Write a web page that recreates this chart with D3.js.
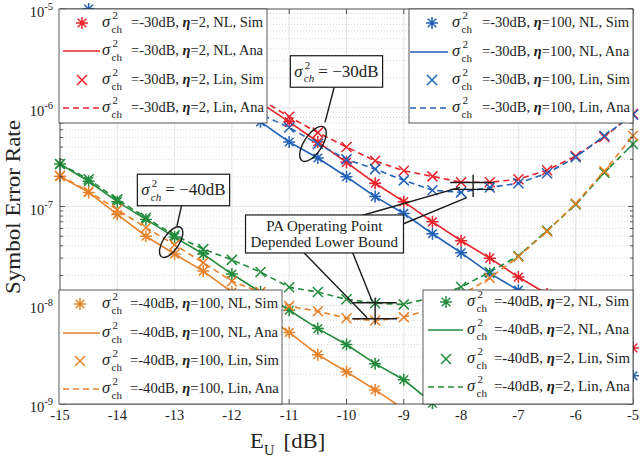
<!DOCTYPE html>
<html>
<head>
<meta charset="utf-8">
<script src="https://d3js.org/d3.v7.min.js"></script>
<style>
  body { margin: 0; background: #fff; }
</style>
</head>
<body>
<script>
// E_U grid (dB), sim points every 0.5 dB
const eu = [-15, -14.5, -14, -13.5, -13, -12.5, -12, -11.5, -11, -10.5, -10,
            -9.5, -9, -8.5, -8, -7.5, -7, -6.5, -6, -5.5, -5];

// sigma_ch^2 = -30 dB, eta = 2
const red_nl  = [2.4e-5, 1.6e-5, 1.05e-5, 6.5e-6, 4.2e-6, 2.7e-6, 1.75e-6, 1.12e-6, 7.2e-7, 4.5e-7, 2.8e-7,
                 1.72e-7, 1.12e-7, 7.0e-8, 4.5e-8, 3.0e-8, 1.93e-8, 1.3e-8, 8.5e-9, 5.6e-9, 3.7e-9];
const red_lin = [2.5e-5, 1.65e-5, 1.08e-5, 6.8e-6, 4.4e-6, 2.85e-6, 1.85e-6, 1.22e-6, 8.1e-7, 5.6e-7, 4.0e-7,
                 2.9e-7, 2.3e-7, 2.02e-7, 1.76e-7, 1.76e-7, 1.89e-7, 2.33e-7, 3.24e-7, 5.06e-7, 8.7e-7];
// sigma_ch^2 = -30 dB, eta = 100
const blue_nl  = [1.55e-5, 1.0e-5, 6.5e-6, 4.2e-6, 2.7e-6, 1.75e-6, 1.12e-6, 7.2e-7, 4.5e-7, 3.1e-7, 2.0e-7,
                  1.26e-7, 8.5e-8, 5.3e-8, 3.4e-8, 2.1e-8, 1.42e-8, 8.7e-9, 5.3e-9, 3.2e-9, 1.93e-9];
const blue_lin = [1.6e-5, 1.04e-5, 6.8e-6, 4.4e-6, 2.85e-6, 1.85e-6, 1.22e-6, 8.6e-7, 6.3e-7, 4.3e-7, 3.0e-7,
                  2.39e-7, 1.84e-7, 1.46e-7, 1.39e-7, 1.56e-7, 1.72e-7, 2.17e-7, 3.16e-7, 5.2e-7, 8.5e-7];
// sigma_ch^2 = -40 dB, eta = 2
const green_nl  = [2.69e-7, 1.8e-7, 1.12e-7, 7.4e-8, 4.9e-8, 3.3e-8, 2.07e-8, 1.36e-8, 8.9e-9, 5.8e-9, 4.0e-9,
                   2.56e-9, 1.76e-9, 1.02e-9, 6.3e-10, null, null, null, null, null, null];
const green_lin = [2.69e-7, 1.89e-7, 1.18e-7, 7.7e-8, 5.1e-8, 3.7e-8, 2.88e-8, 2.17e-8, 1.52e-8, 1.36e-8, 1.15e-8,
                   1.05e-8, 1.02e-8, 1.2e-8, 1.53e-8, 2.17e-8, 3.16e-8, 5.7e-8, 1.05e-7, 2.2e-7, 4.3e-7];
// sigma_ch^2 = -40 dB, eta = 100
const orange_nl  = [2.02e-7, 1.39e-7, 8.3e-8, 5.0e-8, 3.3e-8, 2.22e-8, 1.36e-8, 8.5e-9, 5.3e-9, 3.16e-9, 2.12e-9,
                    1.39e-9, 8.9e-10, 5.6e-10, null, null, null, null, null, null, null];
const orange_lin = [2.05e-7, 1.42e-7, 9.3e-8, 6.1e-8, 4.1e-8, 2.7e-8, 1.75e-8, 1.36e-8, 9.8e-9, 8.7e-9, 7.4e-9,
                    7.0e-9, 7.55e-9, 9.3e-9, 1.26e-8, 1.89e-8, 3.1e-8, 5.6e-8, 1.07e-7, 2.28e-7, 5.2e-7];

const xTicks = [-15, -14, -13, -12, -11, -10, -9, -8, -7, -6, -5];
const xTickLabels = ['-15', '-14', '-13', '-12', '-11', '-10', '-9', '-8', '-7', '-6', '-5'];
const yTicks = [1e-9, 1e-8, 1e-7, 1e-6, 1e-5];
const yTickExp = ['-9', '-8', '-7', '-6', '-5'];

const colors = { red: '#e8232b', blue: '#2262b8', green: '#228b3b', orange: '#e8822a' };

const series = [
  { key: 'r', color: colors.red,    sigma: '-30dB', eta: '2',   nl: red_nl,    lin: red_lin },
  { key: 'b', color: colors.blue,   sigma: '-30dB', eta: '100', nl: blue_nl,   lin: blue_lin },
  { key: 'g', color: colors.green,  sigma: '-40dB', eta: '2',   nl: green_nl,  lin: green_lin },
  { key: 'o', color: colors.orange, sigma: '-40dB', eta: '100', nl: orange_nl, lin: orange_lin }
];

const W = 640, H = 458;
const m = { l: 60, r: 633, t: 9, b: 404 };
const FONT = '"Liberation Serif", "Tinos", "DejaVu Serif Condensed", "DejaVu Serif", serif';
const INK = '#222';

const svg = d3.select('body').append('svg').attr('width', W).attr('height', H)
  .attr('font-family', FONT).attr('font-stretch', 'condensed');

const x = d3.scaleLinear().domain([-15, -5]).range([m.l, m.r]);
const y = d3.scaleLog().domain([1e-9, 1e-5]).range([m.b, m.t]);

// stretch/squeeze a text horizontally (about its anchor x0) so it spans the width w
function squeeze(node, x0, w, pre) {
  const n = node.getComputedTextLength();
  const k = w / n;
  const base = pre ? pre + ' ' : '';
  d3.select(node).attr('transform', `${base}translate(${x0},0) scale(${k},1) translate(${-x0},0)`);
  return k;
}

// grid
const grid = svg.append('g');
const minorY = y.ticks().filter(d => !yTicks.some(t => Math.abs(t - d) / t < 1e-6));
grid.selectAll('.mg').data(minorY).join('line')
  .attr('x1', m.l).attr('x2', m.r)
  .attr('y1', d => y(d)).attr('y2', d => y(d))
  .attr('stroke', '#c8c8c8').attr('stroke-width', 0.7).attr('stroke-dasharray', '1,2');
grid.selectAll('.vg').data(xTicks).join('line')
  .attr('x1', d => x(d)).attr('x2', d => x(d))
  .attr('y1', m.t).attr('y2', m.b)
  .attr('stroke', '#dedede').attr('stroke-width', 0.8);
grid.selectAll('.hg').data(yTicks).join('line')
  .attr('x1', m.l).attr('x2', m.r)
  .attr('y1', d => y(d)).attr('y2', d => y(d))
  .attr('stroke', '#dedede').attr('stroke-width', 0.8);

// curves (lines clipped to the axes, markers drawn when the point lies inside)
svg.append('clipPath').attr('id', 'plot')
  .append('rect').attr('x', m.l).attr('y', m.t).attr('width', m.r - m.l).attr('height', m.b - m.t);
const plot = svg.append('g').attr('clip-path', 'url(#plot)');
const marks = svg.append('g');

const line = d3.line()
  .defined(d => d[1] != null)
  .x(d => x(d[0]))
  .y(d => y(d[1]));

const inside = d => d[1] != null && d[1] >= 1e-9 && d[1] <= 1e-5;

const astPath = r => {
  const k = r * 0.72;
  return `M${-r},0H${r}M0,${-r}V${r}M${-k},${-k}L${k},${k}M${-k},${k}L${k},${-k}`;
};
const xPath = r => `M${-r},${-r}L${r},${r}M${-r},${r}L${r},${-r}`;

series.forEach(s => {
  const nl = eu.map((e, i) => [e, s.nl[i]]);
  const lin = eu.map((e, i) => [e, s.lin[i]]);
  plot.append('path').datum(lin).attr('d', line)
    .attr('fill', 'none').attr('stroke', s.color).attr('stroke-width', 1.6)
    .attr('stroke-dasharray', '6,4');
  plot.append('path').datum(nl).attr('d', line)
    .attr('fill', 'none').attr('stroke', s.color).attr('stroke-width', 1.6);
  marks.append('g').selectAll('path').data(lin.filter(inside)).join('path')
    .attr('transform', d => `translate(${x(d[0])},${y(d[1])})`)
    .attr('d', xPath(5)).attr('stroke', s.color).attr('stroke-width', 1.5).attr('fill', 'none');
  marks.append('g').selectAll('path').data(nl.filter(inside)).join('path')
    .attr('transform', d => `translate(${x(d[0])},${y(d[1])})`)
    .attr('d', astPath(6)).attr('stroke', s.color).attr('stroke-width', 1.5).attr('fill', 'none');
});

// frame and ticks
const axes = svg.append('g').attr('stroke', '#333').attr('stroke-width', 0.8);
axes.append('rect').attr('x', m.l).attr('y', m.t).attr('width', m.r - m.l).attr('height', m.b - m.t)
  .attr('fill', 'none');
xTicks.forEach(t => {
  axes.append('line').attr('x1', x(t)).attr('x2', x(t)).attr('y1', m.b).attr('y2', m.b - 5);
  axes.append('line').attr('x1', x(t)).attr('x2', x(t)).attr('y1', m.t).attr('y2', m.t + 5);
});
y.ticks().forEach(t => {
  const len = yTicks.some(v => Math.abs(v - t) / v < 1e-6) ? 5 : 3;
  axes.append('line').attr('x1', m.l).attr('x2', m.l + len).attr('y1', y(t)).attr('y2', y(t));
  axes.append('line').attr('x1', m.r).attr('x2', m.r - len).attr('y1', y(t)).attr('y2', y(t));
});

// tick labels
svg.append('g').selectAll('text').data(xTicks).join('text')
  .attr('x', d => x(d)).attr('y', 420).attr('fill', INK)
  .attr('text-anchor', 'middle').attr('font-size', 14.5)
  .text((d, i) => xTickLabels[i]);

const yl = svg.append('g').selectAll('text').data(yTicks).join('text')
  .attr('x', 53).attr('y', d => y(d) + 8).attr('fill', INK)
  .attr('text-anchor', 'end').attr('font-size', 14.5);
yl.append('tspan').text('10');
yl.append('tspan').attr('dy', -7).attr('font-size', 10.5).text((d, i) => yTickExp[i]);

// axis titles
const xt = svg.append('text').attr('x', 250).attr('y', 448).attr('font-size', 22).attr('fill', INK);
xt.append('tspan').text('E');
xt.append('tspan').attr('dy', 7).attr('font-size', 14).text('U');
xt.append('tspan').attr('dy', -7).attr('dx', 9).text('[dB]');
squeeze(xt.node(), 250, 66);

const ytl = svg.append('text').attr('fill', INK)
  .attr('text-anchor', 'middle').attr('font-size', 22).text('Symbol Error Rate');
squeeze(ytl.node(), 0, 174, 'translate(20,207) rotate(-90)');

// annotations
const ann = svg.append('g');
const black = '#1a1a1a';

function sigmaLabel(g, value, italicSub) {
  g.append('text').attr('x', 0).attr('y', 0).attr('font-size', 16.5).attr('font-style', 'italic').text('σ');
  g.append('text').attr('x', 10.5).attr('y', -8).attr('font-size', 11).text('2');
  g.append('text').attr('x', 9.5).attr('y', 5.5).attr('font-size', 11)
    .attr('font-style', italicSub ? 'italic' : null).text('ch');
  if (value) g.append('text').attr('x', 24).attr('y', 0).attr('font-size', 17).text(value);
  g.selectAll('text').attr('fill', INK);
}

function boxAt(cx, cy, build, pad) {
  const g = ann.append('g');
  const rect = g.append('rect');
  const inner = g.append('g');
  build(inner);
  const bb = inner.node().getBBox();
  rect.attr('x', bb.x - pad[0]).attr('y', bb.y - pad[1])
    .attr('width', bb.width + 2 * pad[0]).attr('height', bb.height + 2 * pad[1])
    .attr('fill', '#fff').attr('stroke', black).attr('stroke-width', 1.2);
  g.attr('transform', `translate(${cx - (bb.x + bb.width / 2)},${cy - (bb.y + bb.height / 2)})`);
}

const connectors = [
  [[-10.2, 1.74e-6], [-10.375, 7.1e-7]],
  [[-12.87, 1.08e-7], [-12.96, 6.3e-8]],
  [[-9.73, 8.1e-8], [-8.02, 1.56e-7]],
  [[-9.12, 6.27e-8], [-7.9, 1.23e-7]],
  [[-10.76, 3.49e-8], [-9.64, 7.46e-9]],
  [[-9.9, 3.49e-8], [-9.55, 1.09e-8]]
];
ann.selectAll('.cn').data(connectors).join('line')
  .attr('x1', d => x(d[0][0])).attr('y1', d => y(d[0][1]))
  .attr('x2', d => x(d[1][0])).attr('y2', d => y(d[1][1]))
  .attr('stroke', black).attr('stroke-width', 1.4);

// lower-bound markers
const bounds = [
  { h: [1.75e-7, 1.49e-7], x0: -8.19, x1: -7.43, xv: -7.79, v: [2.1e-7, 1.25e-7] },
  { h: [1.06e-8, 7.3e-9], x0: -9.9, x1: -9.12, xv: -9.5, v: [1.2e-8, 6.4e-9] }
];
bounds.forEach(b => {
  b.h.forEach(v => ann.append('line').attr('x1', x(b.x0)).attr('x2', x(b.x1))
    .attr('y1', y(v)).attr('y2', y(v)).attr('stroke', black).attr('stroke-width', 1.4));
  ann.append('line').attr('x1', x(b.xv)).attr('x2', x(b.xv))
    .attr('y1', y(b.v[0])).attr('y2', y(b.v[1])).attr('stroke', black).attr('stroke-width', 1.4);
});

// ellipses
const ellipses = [
  { cx: -10.585, cy: 4.3e-7, rx: 9, ry: 20, rot: 33 },
  { cx: -13.06, cy: 4.36e-8, rx: 8, ry: 17.5, rot: 33 }
];
ann.selectAll('ellipse').data(ellipses).join('ellipse')
  .attr('transform', d => `translate(${x(d.cx)},${y(d.cy)}) rotate(${d.rot})`)
  .attr('rx', d => d.rx).attr('ry', d => d.ry)
  .attr('fill', 'none').attr('stroke', black).attr('stroke-width', 1.4);

boxAt(x(-10.175), y(2.33e-6), g => sigmaLabel(g, '= −30dB', true), [4, 3]);
boxAt(x(-12.845), y(1.47e-7), g => sigmaLabel(g, '= −40dB', true), [4, 3]);
boxAt(x(-10.384), y(5.27e-8), g => {
  ['PA Operating Point', 'Depended Lower Bound'].forEach((s, i) => {
    g.append('text').attr('x', 0).attr('y', i * 16).attr('text-anchor', 'middle')
      .attr('font-size', 15).attr('fill', INK).text(s);
  });
}, [5, 3]);

// legends
const rowDefs = [
  { kind: 'ast',   label: 'NL, Sim' },
  { kind: 'solid', label: 'NL, Ana' },
  { kind: 'x',     label: 'Lin, Sim' },
  { kind: 'dash',  label: 'Lin, Ana' }
];

const legends = [
  { s: series[0], box: [59, 9, 267, 123],    base: [27, 55, 84, 112],    line: [63, 100],  mk: 82,  sig: 102, txt: 131 },
  { s: series[1], box: [409, 9, 633, 123],   base: [27, 56, 84, 112],    line: [410, 448], mk: 432, sig: 452, txt: 482 },
  { s: series[3], box: [59, 290, 282, 404],  base: [308, 337, 365, 393], line: [63, 100],  mk: 80,  sig: 102, txt: 130 },
  { s: series[2], box: [423, 290, 633, 404], base: [306, 334, 363, 391], line: [428, 463], mk: 446, sig: 467, txt: 494 }
];

legends.forEach(L => {
  const g = svg.append('g');
  g.append('rect').attr('x', L.box[0]).attr('y', L.box[1])
    .attr('width', L.box[2] - L.box[0]).attr('height', L.box[3] - L.box[1])
    .attr('fill', '#fff').attr('stroke', '#333').attr('stroke-width', 0.8);
  const texts = [];
  rowDefs.forEach((r, i) => {
    const b = L.base[i];
    const cy = b - 4;
    if (r.kind === 'ast' || r.kind === 'x') {
      g.append('path').attr('transform', `translate(${L.mk},${cy})`)
        .attr('d', r.kind === 'ast' ? astPath(6) : xPath(5))
        .attr('stroke', L.s.color).attr('stroke-width', 1.5).attr('fill', 'none');
    } else {
      g.append('line').attr('x1', L.line[0]).attr('x2', L.line[1]).attr('y1', cy).attr('y2', cy)
        .attr('stroke', L.s.color).attr('stroke-width', 1.6)
        .attr('stroke-dasharray', r.kind === 'dash' ? '6,4' : null);
    }
    const sg = g.append('g').attr('transform', `translate(${L.sig},${b})`);
    sigmaLabel(sg, null, false);
    const t = g.append('text').attr('x', L.txt).attr('y', b).attr('font-size', 14).attr('fill', INK);
    t.append('tspan').text(`=${L.s.sigma}, `);
    t.append('tspan').attr('font-style', 'italic').attr('font-weight', 'bold').text('η');
    t.append('tspan').text(`=${L.s.eta}, ${r.label}`);
    texts.push(t.node());
  });
  const widest = d3.max(texts, n => n.getComputedTextLength());
  const k = (L.box[2] - 3 - L.txt) / widest;
  texts.forEach(n => squeeze(n, L.txt, n.getComputedTextLength() * k));
});
</script>
</body>
</html>
